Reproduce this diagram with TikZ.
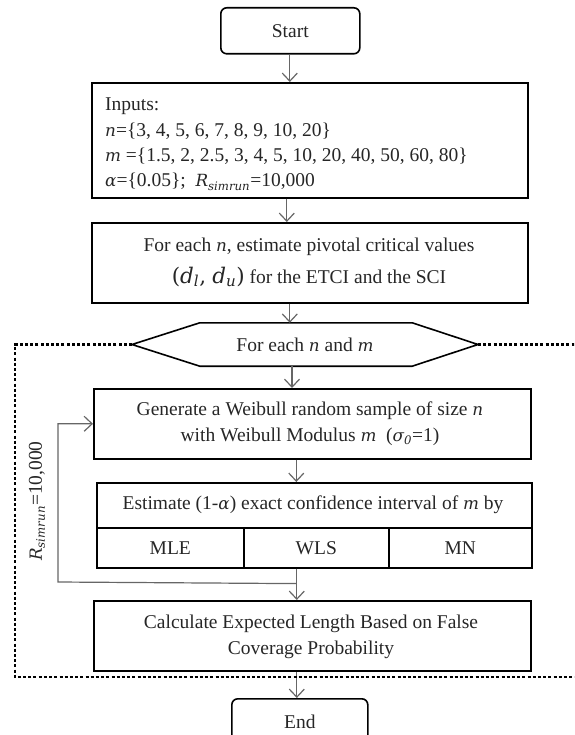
\documentclass[tikz,border=0pt]{standalone}
\usepackage{fontspec}
\setmainfont{Liberation Serif}
\newfontfamily\mathvar{DejaVu Serif}[Scale=0.86]
\newcommand{\mv}[1]{{\mathvar\itshape #1}}
\newcommand{\sbs}[1]{\textsubscript{\mathvar\itshape #1}}
\usetikzlibrary{arrows.meta,calc}

\tikzset{
  box/.style={draw=black, line width=1.6pt, inner sep=0pt, anchor=north west,
    font=\fontsize{19.5}{23}\selectfont, text=black!85},
  rbox/.style={box, rounded corners=6pt},
  flow/.style={draw=black!60, line width=1.2pt,
    -{Straight Barb[length=8pt,width=15pt,line width=1.2pt]}},
  frame/.style={draw=black, line width=2.8pt, dash pattern=on 3pt off 2.2pt},
  txt/.style={inner sep=0pt, font=\fontsize{19.5}{23}\selectfont, text=black!85},
}

\begin{document}
\begin{tikzpicture}[x=1pt,y=-1pt]
\clip (0,0) rectangle (574,735);

% boxes
\node[rbox, minimum width=139pt, minimum height=46pt] (start) at (220,7) {Start};
\node[box, minimum width=436pt, minimum height=115pt] (inputs) at (91,82) {};
\node[box, minimum width=436pt, minimum height=80pt] (crit) at (91,222) {};
\node[inner sep=0pt, minimum width=212pt, minimum height=43pt] (hex) at (306,344.5) {};
\coordinate (hexL) at (132,344.5);
\coordinate (hexR) at (478,344.5);
\draw[line width=1.6pt] (hexL) -- (hex.north west) -- (hex.north east) -- (hexR)
  -- (hex.south east) -- (hex.south west) -- cycle;
\node[box, minimum width=437pt, minimum height=70pt] (gen) at (93,388) {};
\node[box, minimum width=435pt, minimum height=45pt] (est) at (96,482) {};
\node[box, minimum width=147pt, minimum height=40pt] (mle) at (96,527) {MLE};
\node[box, minimum width=145pt, minimum height=40pt] (wls) at (243,527) {WLS};
\node[box, minimum width=143pt, minimum height=40pt] (mn) at (388,527) {MN};
\node[box, minimum width=437pt, minimum height=70pt] (calc) at (93,600) {};
\node[rbox, minimum width=136pt, minimum height=46pt] (end) at (231,698) {End};

% text of the boxes
\node[txt, anchor=base west] (in1) at (105,111) {Inputs:};
\node[txt, anchor=base west] (in2) at (105,137) {\mv{n}=\{3, 4, 5, 6, 7, 8, 9, 10, 20\}};
\node[txt, anchor=base west] (in3) at (105,162) {\mv{m} =\{1.5, 2, 2.5, 3, 4, 5, 10, 20, 40, 50, 60, 80\}};
\node[txt, anchor=base west] (in4) at (105,187) {\mv{α}=\{0.05\};\ \ \mv{R}\sbs{simrun}=10,000};

\node[txt, anchor=base] (cr1) at (309,251) {For each \mv{n}, estimate pivotal critical values};
\node[txt, anchor=base] (cr2) at (309,283) {{\fontsize{25}{26}\selectfont{\mathvar(}\mv{d}\sbs{l}{\mathvar,} \mv{d}\sbs{u}{\mathvar)}} for the ETCI and the SCI};

\node[txt, anchor=base] (hx) at (305,351) {For each \mv{n} and \mv{m}};

\node[txt, anchor=base] (g1) at (310,415) {Generate a Weibull random sample of size \mv{n}};
\node[txt, anchor=base] (g2) at (310,441) {with Weibull Modulus \mv{m}\ \ (\mv{σ}\sbs{0}=1)};

\node[txt, anchor=base] (e1) at (313,509) {Estimate (1-\mv{α}) exact confidence interval of \mv{m} by};

\node[txt, anchor=base] (c1) at (311,628) {Calculate Expected Length Based on False};
\node[txt, anchor=base] (c2) at (311,654) {Coverage Probability};

\node[txt, rotate=90] (reps) at (37,501) {\mv{R}\sbs{simrun}=10,000};

% connectors
\draw[flow] ([xshift=-0.5pt]start.south) -- ([xshift=-0.5pt]start.south |- inputs.north);
\draw[flow] ([xshift=-23pt]inputs.south) -- ([xshift=-23pt]inputs.south |- crit.north);
\draw[flow] ([xshift=-20pt]crit.south) -- ([xshift=-20pt]crit.south |- hex.north);
\draw[flow] ([xshift=-14pt]hex.south) -- ([xshift=-14pt]hex.south |- gen.north);
\draw[flow] ([xshift=-16pt]gen.south) -- ([xshift=-16pt]gen.south |- est.north);
\draw[flow] ([xshift=-19.5pt]wls.south) -- ([xshift=-19.5pt]wls.south |- calc.north);
\coordinate (fb) at ($(wls.south)+(-19.5,15)$);
\coordinate (fbcorner) at (58,582);
\draw[flow] (fb) -- (fbcorner) |- (gen.west);
\draw[flow] ([xshift=-15.5pt]calc.south) -- ([xshift=-15.5pt]calc.south |- end.north);

% dotted loop frame
\draw[frame] (hexL) -- (15,344.5) -- (15,677) -- (580,677);
\draw[frame] (hexR) -- (580,344.5);
\end{tikzpicture}
\end{document}
